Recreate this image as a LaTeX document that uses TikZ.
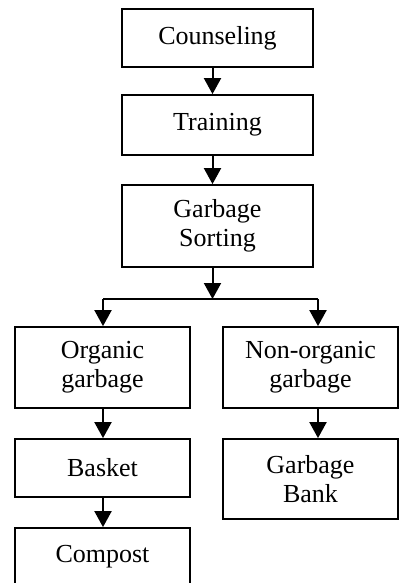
\documentclass[tikz,border=0pt]{standalone}
\usepackage{fontspec}
\setmainfont{Liberation Serif}
\usetikzlibrary{arrows.meta,calc}
\begin{document}
\begin{tikzpicture}[x=1pt,y={(0,-1pt)},
  box/.style={draw,line width=1.8pt,inner sep=0pt,align=center,
    font=\fontsize{26}{29}\selectfont},
  arr/.style={line width=2pt,-{Triangle[length=16pt,width=17pt]}},
  ln/.style={line width=2pt}]
\clip (0,0) rectangle (399,583);
\node[box,minimum width=191pt,minimum height=58pt] (c) at (217.5,38) {Counseling};
\node[box,minimum width=191pt,minimum height=60pt] (t) at (217.5,125) {Training};
\node[box,minimum width=191pt,minimum height=82pt] (s) at (217.5,226) {Garbage\\Sorting};
\node[box,minimum width=175pt,minimum height=81pt] (o) at (102.5,367.5) {Organic\\garbage};
\node[box,minimum width=175pt,minimum height=81pt] (n) at (310.5,367.5) {Non-organic\\garbage};
\node[box,minimum width=175pt,minimum height=58pt] (b) at (102.5,468) {Basket};
\node[box,minimum width=175pt,minimum height=80pt] (g) at (310.5,479) {Garbage\\Bank};
\node[box,minimum width=175pt,minimum height=58pt] (p) at (102.5,557) {Compost};
\coordinate (j) at (212.5,299);
\coordinate (jl) at (103,299);
\coordinate (jr) at (318,299);
\draw[arr] ([xshift=-5pt]c.south) -- ([xshift=-5pt]t.north);
\draw[arr] ([xshift=-5pt]t.south) -- ([xshift=-5pt]s.north);
\draw[arr] ([xshift=-5pt]s.south) -- (j);
\draw[ln] (jl) -- (jr);
\draw[arr] (jl) -- (o.north -| jl);
\draw[arr] (jr) -- (n.north -| jr);
\draw[arr] (o.south -| jl) -- (b.north -| jl);
\draw[arr] (n.south -| jr) -- (g.north -| jr);
\draw[arr] (b.south -| jl) -- (p.north -| jl);
\end{tikzpicture}
\end{document}
